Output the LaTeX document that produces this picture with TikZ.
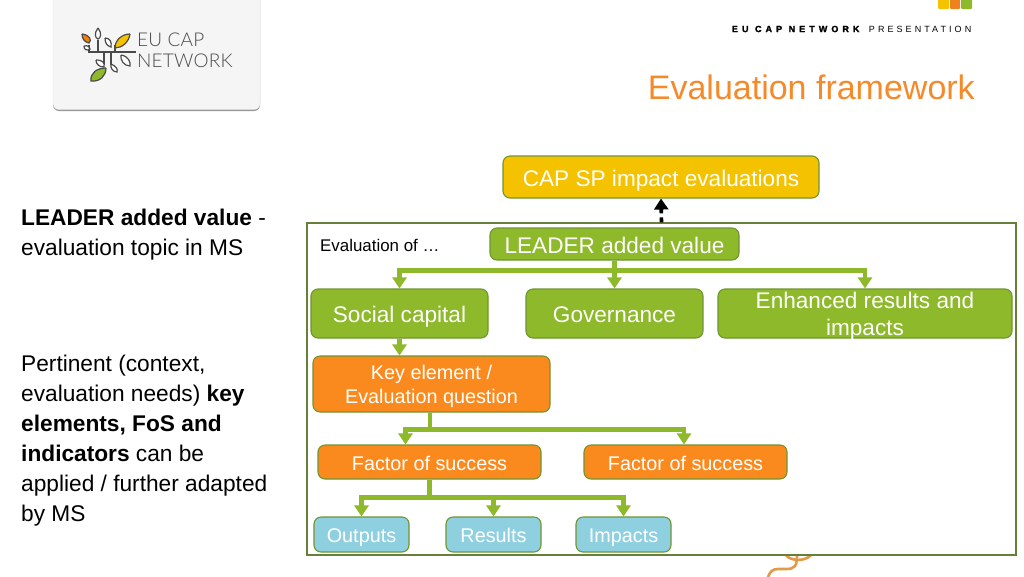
\documentclass[tikz,border=0pt]{standalone}
\usepackage{fontspec}
\setmainfont{Liberation Sans}
\newfontfamily\headbold[LetterSpace=45,FakeBold=2]{Liberation Sans Bold}
\newfontfamily\headlight[LetterSpace=34]{Liberation Sans}
\newfontfamily\logofont[LetterSpace=1]{Lato Light}
\usetikzlibrary{arrows.meta,calc}
\definecolor{grn}{HTML}{8DB92B}
\definecolor{grnline}{HTML}{6E9530}
\definecolor{frameline}{HTML}{66803A}
\definecolor{ylw}{HTML}{F5C200}
\definecolor{org}{HTML}{FB8A1E}
\definecolor{blu}{HTML}{8FD0E0}
\definecolor{ttl}{HTML}{F58A2A}
\definecolor{squig}{HTML}{E09A48}
\definecolor{logoink}{HTML}{4A4A4A}
\tikzset{
  x=1pt,y=-1pt,
  box/.style={draw=grnline,line width=1.1pt,rounded corners=7pt,text=white,align=center,inner sep=0pt,anchor=center},
  onebox/.style={box,text height=20pt,text depth=2pt},
  smallbox/.style={box,text height=18pt,text depth=2pt},
  conn/.style={draw=grn,line width=4.2pt,-{Triangle[length=11pt,width=14pt]}},
  side/.style={anchor=north west,align=left,font=\fontsize{22.7}{29.9}\selectfont,inner sep=0pt},
  leaf/.style={draw=logoink,line width=1.2pt},
  stem/.style={draw=logoink,line width=1.3pt},
}
\newcommand{\bx}[7]{\node[onebox,fill=#6,minimum width=#4-#2,minimum height=#5-#3,font=\fontsize{#7}{24}\selectfont] (#1) at ({(#2+#4)/2},{(#3+#5)/2})}
\newcommand{\sbx}[7]{\node[smallbox,fill=#6,minimum width=#4-#2,minimum height=#5-#3,font=\fontsize{#7}{24}\selectfont] (#1) at ({(#2+#4)/2},{(#3+#5)/2})}
\begin{document}
\begin{tikzpicture}
\useasboundingbox (0,0) rectangle (1024,576);
\fill[white] (0,0) rectangle (1024,576);
% logo card
\fill[black!40,rounded corners=6pt] (53,-10) rectangle (260,111);
\fill[draw=black!12,fill=black!4,rounded corners=6pt] (53,-10) rectangle (260,109.5);
\node[anchor=west,inner sep=0pt,text=logoink,font=\logofont\fontsize{19}{20.5}\selectfont,align=left] (logotext) at (137,50.5) {EU CAP\\NETWORK};
\draw[stem] (89,45) -- (89,52) -- (136,52) (98,40) -- (98,52) (115,45) -- (115,52) (104,52) -- (104,65) (111,52) -- (111,65);
\draw[leaf,fill=orange!75!brown] (82,34) .. controls (90,35) and (92,40) .. (89,43) .. controls (84,42) and (82,38) .. (82,34);
\draw[leaf,fill=white] (98,28) .. controls (102,33) and (101,38) .. (98,39) .. controls (95,38) and (94,33) .. (98,28);
\draw[leaf,fill=white] (105,38) .. controls (110,38) and (112,42) .. (111,47) .. controls (107,46) and (105,43) .. (105,38);
\draw[leaf,fill=ylw] (130,34) .. controls (129,42) and (122,48) .. (115,48) .. controls (115,40) and (122,34) .. (130,34);
\draw[leaf,fill=white] (84,46) .. controls (88,45) and (90,47) .. (90,49) .. controls (87,51) and (84,50) .. (84,46);
\draw[leaf,fill=white] (96,60) .. controls (103,60) and (105,63) .. (104,67) .. controls (99,67) and (96,64) .. (96,60);
\draw[leaf,fill=white] (121,55) .. controls (128,56) and (131,62) .. (130,66) .. controls (124,66) and (120,60) .. (121,55);
\draw[leaf,fill=white] (111,64) .. controls (116,66) and (118,69) .. (117,72) .. controls (113,72) and (110,68) .. (111,64);
\draw[leaf,fill=grn] (106,68) .. controls (106,76) and (100,82) .. (91,81) .. controls (90,73) and (97,68) .. (106,68);
% header
\fill[ylw,rounded corners=1pt] (938,-3) rectangle (949,9);
\fill[org!95!black,rounded corners=1pt] (950,-3) rectangle (960,9);
\fill[grn,rounded corners=1pt] (961,-3) rectangle (972,9);
\node[anchor=east,inner sep=0pt,font=\fontsize{9}{11}\selectfont] (headtxt) at (971.5,29) {{\headbold EU CAP NETWORK}\hspace*{9.5pt}{\headlight PRESENTATION}};
\node[anchor=east,inner sep=0pt,text=ttl,font=\fontsize{34}{36}\selectfont] (title) at (975,87) {Evaluation framework};
% left text
\node[side] (s1) at (21,209) {\textbf{LEADER added value} -\\evaluation topic in MS};
\node[side] (s2) at (21,355) {Pertinent (context,\\evaluation needs) \textbf{key}\\\textbf{elements, FoS and}\\\textbf{indicators} can be\\applied / further adapted\\by MS};
% squiggle
\draw[squig,line width=2.6pt] (786,555) .. controls (790,561) and (805,562) .. (811,555);
\draw[squig,line width=2.6pt,line cap=round] (797,555) .. controls (797,566) and (795,569) .. (786,569) -- (778,569) .. controls (772,569) and (770,572) .. (768,577);
% frame
\node[draw=frameline,line width=1.4pt,fill=none,minimum width=709pt,minimum height=332pt,inner sep=0pt] (frame) at (661.5,389) {};
\node[anchor=west,inner sep=0pt,font=\fontsize{16.9}{18}\selectfont] (evalof) at (320,245) {Evaluation of …};
% boxes
\bx{cap}{503}{156}{819}{198}{ylw}{22.6} {CAP SP impact evaluations};
\bx{lead}{490}{228}{739}{260}{grn}{22.6} {LEADER added value};
\bx{soc}{311}{289}{488}{338}{grn}{22.6} {Social capital};
\bx{gov}{526}{289}{703}{338}{grn}{22.6} {Governance};
\node[box,fill=grn,minimum width=294pt,minimum height=49pt,label={[name=enhtxt,text=white,align=center,inner sep=0pt,yshift=-3pt,font=\fontsize{22.6}{27}\selectfont]center:Enhanced results and\\impacts}] (enh) at (865,313.5) {};
\node[box,fill=org,minimum width=237pt,minimum height=56pt,font=\fontsize{19.8}{24}\selectfont] (key) at (431.5,384) {\rule{0pt}{20pt}Key element /\\Evaluation question};
\sbx{fos1}{318}{445}{541}{479}{org}{19.8} {Factor of success};
\sbx{fos2}{584}{445}{787}{479}{org}{19.8} {Factor of success};
\sbx{outp}{314}{517}{409}{552}{blu}{19.8} {Outputs};
\sbx{resu}{446}{517}{541}{552}{blu}{19.8} {Results};
\sbx{impa}{576}{517}{671}{552}{blu}{19.8} {Impacts};
% connectors
\draw[black,line width=3.6pt,dash pattern=on 5pt off 4pt,-{Triangle[length=11pt,width=14pt]}] (frame.north) -- (cap.south);
\draw[conn] (lead.south) -- ++(0,10) -| (soc.north);
\draw[conn] (lead.south) -- (gov.north);
\draw[conn] (lead.south) -- ++(0,10) -| (enh.north);
\draw[conn] (soc.south) -- (soc.south |- key.north);
\draw[conn] ([xshift=-1.5pt]key.south) -- ++(0,17) -| ([xshift=-24pt]fos1.north);
\draw[conn] ([xshift=-1.5pt]key.south) -- ++(0,17) -| ([xshift=-1.5pt]fos2.north);
\draw[conn] (fos1.south) -- ++(0,18) -| (outp.north);
\draw[conn] (fos1.south) -- ++(0,18) -| (resu.north);
\draw[conn] (fos1.south) -- ++(0,18) -| (impa.north);
\end{tikzpicture}
\end{document}
